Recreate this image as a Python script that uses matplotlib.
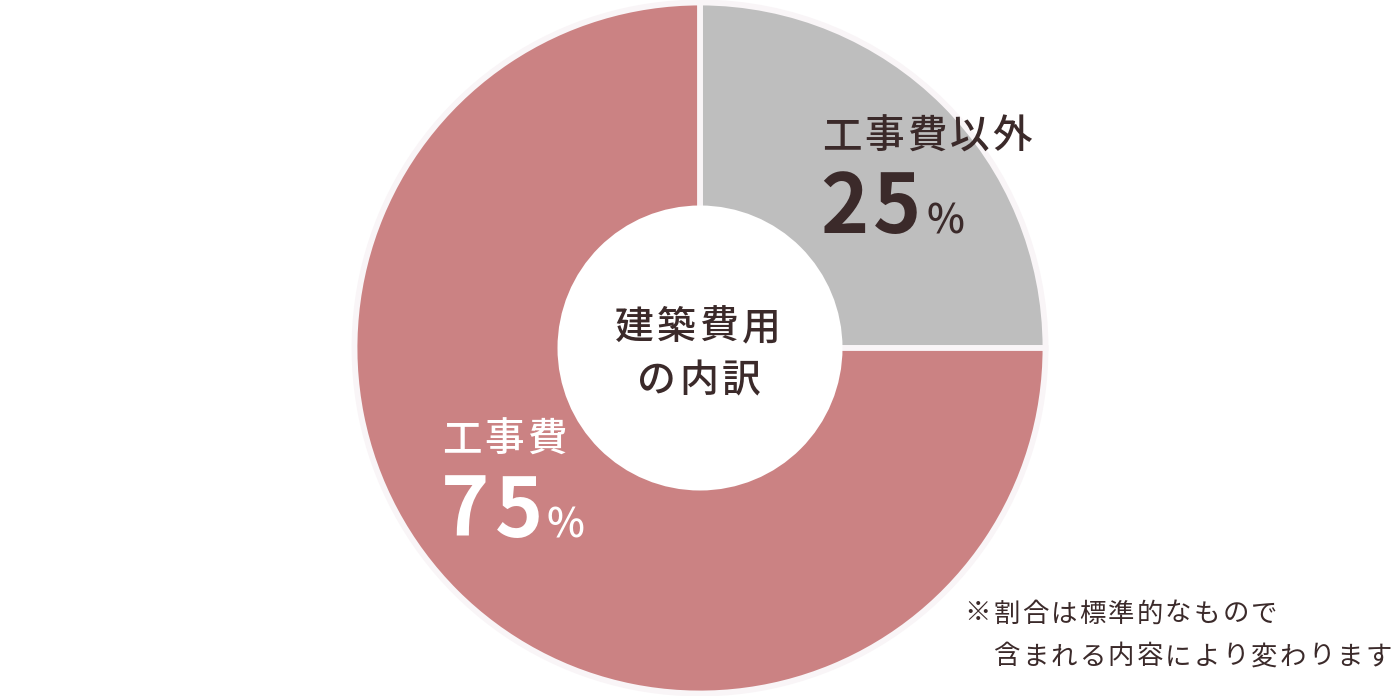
import matplotlib
matplotlib.use("Agg")
import matplotlib.pyplot as plt
from matplotlib.patches import Circle

plt.rcParams['font.family'] = ['Noto Sans CJK JP', 'DejaVu Sans']

# data
categories = ['工事費以外', '工事費']
shares = [25, 75]
colors = ['#bebebe', '#cb8283']
center_lines = ['建築費用', 'の内訳']
note_lines = ['※割合は標準的なもので', '含まれる内容により変わります']

W, H = 1400, 696
text_dark = '#3b2a2a'

fig = plt.figure(figsize=(W / 100, H / 100), dpi=100)
ax = fig.add_axes([0, 0, 1, 1])


def spaced(x0, y, s, step, **kw):
    # draw text one char at a time to get the wide letter spacing
    for i, ch in enumerate(s):
        ax.text(x0 + i * step, y, ch, ha='center', zorder=6, **kw)


cx, cy = 700, H - 348

ax.pie(shares, colors=colors, startangle=90, counterclock=False,
       radius=345.5, center=(cx, cy), frame=True,
       wedgeprops=dict(edgecolor='#f9f5f7', linewidth=4.2))
ax.set_xlim(0, W)
ax.set_ylim(0, H)
ax.set_aspect('equal')
ax.axis('off')

# hole
ax.add_patch(Circle((cx, cy), 142.5, facecolor='white', edgecolor='none', zorder=5))

# centre title
spaced(634, H - 328, center_lines[0], 42.5, va='center', fontsize=28,
       color=text_dark, fontweight='medium')
spaced(656.5, H - 381, center_lines[1], 42.5, va='center', fontsize=28,
       color=text_dark, fontweight='medium')

# gray slice label
spaced(841.5, H - 137, categories[0], 42.7, va='center', fontsize=28.5,
       color=text_dark, fontweight='medium')
ax.text(820, H - 233, str(shares[0])[0], ha='left', va='baseline', fontsize=59,
        color=text_dark, fontweight='bold', zorder=6)
ax.text(873, H - 233, str(shares[0])[1], ha='left', va='baseline', fontsize=59,
        color=text_dark, fontweight='bold', zorder=6)
ax.text(926, H - 233, '%', ha='left', va='baseline', fontsize=29,
        color=text_dark, fontweight='medium', zorder=6)

# pink slice label
spaced(461.5, H - 440, categories[1], 42.7, va='center', fontsize=28.5,
       color='white', fontweight='medium')
ax.text(441, H - 537, str(shares[1])[0], ha='left', va='baseline', fontsize=59,
        color='white', fontweight='bold', zorder=6)
ax.text(495, H - 537, str(shares[1])[1], ha='left', va='baseline', fontsize=59,
        color='white', fontweight='bold', zorder=6)
ax.text(546, H - 537, '%', ha='left', va='baseline', fontsize=29,
        color='white', fontweight='medium', zorder=6)

# note
spaced(978, H - 614, note_lines[0], 28.6, va='center', fontsize=19,
       color=text_dark)
spaced(1006.5, H - 657, note_lines[1], 28.6, va='center', fontsize=19,
       color=text_dark)

fig.savefig('out.png', dpi=100, facecolor='white')
